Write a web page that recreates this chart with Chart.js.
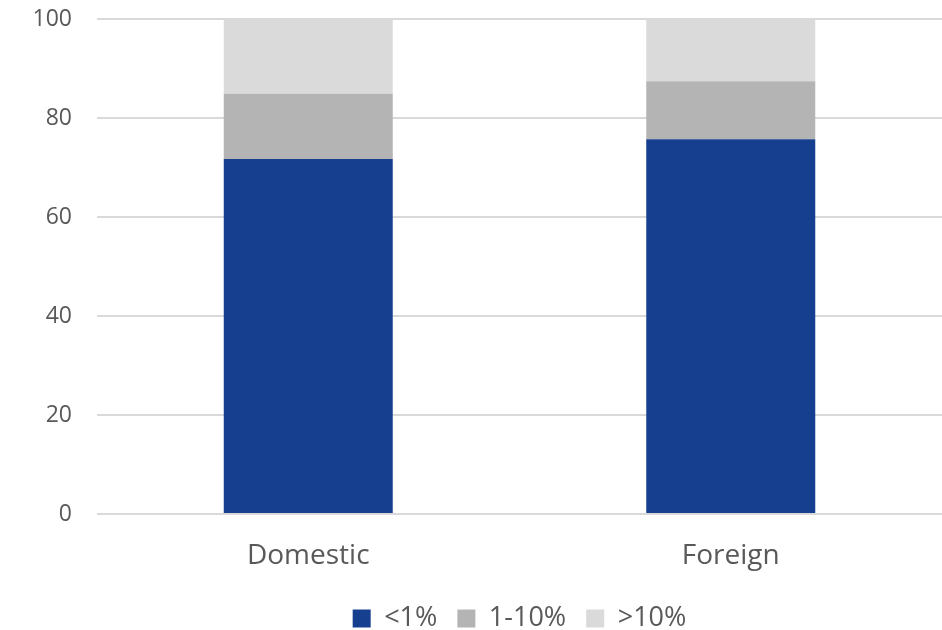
<!DOCTYPE html>
<html>
<head>
<meta charset="utf-8">
<script src="https://cdn.jsdelivr.net/npm/chart.js@4"></script>
<style>
  html, body { margin: 0; padding: 0; background: #fff; }
  #wrap { width: 942px; height: 630px; }
</style>
</head>
<body>
<div id="wrap"><canvas id="chart" width="942" height="630"></canvas></div>
<script>
// Share of holdings by size bucket
const categories = ['Domestic', 'Foreign'];
const under1 = [71.7, 75.7];
const from1to10 = [13.2, 11.7];
const over10 = [15.1, 12.6];
const yTicks = [0, 20, 40, 60, 80, 100];

const textColor = '#595959';
const fontFamily = '"Open Sans", "Liberation Sans", sans-serif';

const ctx = document.getElementById('chart').getContext('2d');
new Chart(ctx, {
    type: 'bar',
    data: {
        labels: categories,
        datasets: [
            { label: '<1%', data: under1, backgroundColor: '#163F8F' },
            { label: '1-10%', data: from1to10, backgroundColor: '#B4B4B4' },
            { label: '>10%', data: over10, backgroundColor: '#DADADA' }
        ]
    },
    options: {
        responsive: false,
        animation: false,
        layout: { padding: { top: 19, right: 0, left: 0, bottom: 0 } },
        datasets: { bar: { categoryPercentage: 1, barPercentage: 0.4, borderWidth: 0 } },
        scales: {
            x: {
                stacked: true,
                afterFit: (axis) => { axis.height = 71; },
                grid: { display: false, drawTicks: false },
                border: { display: false },
                ticks: { color: textColor, font: { family: fontFamily, size: 28, lineHeight: 1 }, padding: 28 }
            },
            y: {
                stacked: true,
                min: 0,
                max: 100,
                afterBuildTicks: (axis) => { axis.ticks = yTicks.map(v => ({ value: v })); },
                afterFit: (axis) => { axis.width = 97; },
                // invisible tick marks keep the labels clear of the plot
                grid: { color: '#D9D9D9', lineWidth: 2, drawTicks: true, tickLength: 25, tickColor: 'rgba(0,0,0,0)' },
                border: { display: false },
                ticks: { color: textColor, font: { family: fontFamily, size: 23 }, padding: 0 }
            }
        },
        plugins: {
            tooltip: { enabled: false },
            legend: {
                position: 'bottom',
                fullSize: false,
                maxHeight: 45,
                labels: {
                    color: textColor,
                    font: { family: fontFamily, size: 27 },
                    boxWidth: 18,
                    boxHeight: 18,
                    padding: 20
                }
            }
        }
    }
});
</script>
</body>
</html>
